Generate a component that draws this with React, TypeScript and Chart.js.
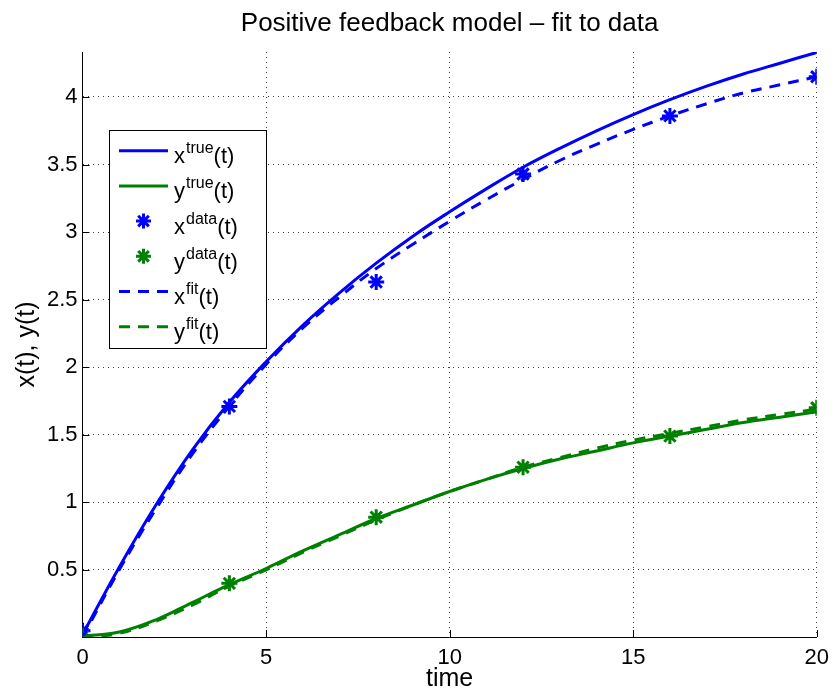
import React, { useEffect, useRef } from "react";
import { Chart, registerables } from "chart.js";

Chart.register(...registerables);

const TITLE = "Positive feedback model \u2013 fit to data";
const X_LABEL = "time";
const Y_LABEL = "x(t), y(t)";

// model curves (true solution and fitted solution), sampled at integer times
const tModel = [0, 1, 2, 3, 4, 5, 6, 7, 8, 9, 10, 11, 12, 13, 14, 15, 16, 17, 18, 19, 20];
const xTrue = [0.02, 0.52, 0.98, 1.39, 1.74, 2.04, 2.31, 2.55, 2.77, 2.97, 3.15, 3.32, 3.48, 3.62, 3.75, 3.87, 3.98, 4.08, 4.17, 4.25, 4.33];
const yTrue = [0.01, 0.04, 0.13, 0.26, 0.39, 0.51, 0.64, 0.76, 0.88, 0.98, 1.08, 1.17, 1.25, 1.32, 1.38, 1.44, 1.49, 1.54, 1.59, 1.63, 1.67];
const xFit = [0.0, 0.5, 0.95, 1.36, 1.71, 2.02, 2.29, 2.52, 2.73, 2.91, 3.08, 3.24, 3.39, 3.53, 3.65, 3.76, 3.86, 3.95, 4.03, 4.09, 4.15];
const yFit = [0.0, 0.03, 0.12, 0.24, 0.38, 0.5, 0.63, 0.75, 0.87, 0.98, 1.08, 1.17, 1.26, 1.33, 1.4, 1.46, 1.51, 1.56, 1.61, 1.65, 1.69];

// measured data
const tData = [0, 4, 8, 12, 16, 20];
const xData = [0.05, 1.71, 2.63, 3.43, 3.86, 4.15];
const yData = [0.01, 0.4, 0.89, 1.26, 1.49, 1.7];

const xTicks = [0, 5, 10, 15, 20];
const yTicks = [0.5, 1, 1.5, 2, 2.5, 3, 3.5, 4];

const legendBase = ["x", "y", "x", "y", "x", "y"];
const legendSup = ["true", "true", "data", "data", "fit", "fit"];
const legendKind = ["line", "line", "star", "star", "dash", "dash"];

const BLUE = "#0000ff";
const GREEN = "#008000";
const legendColor = [BLUE, GREEN, BLUE, GREEN, BLUE, GREEN];

const FONT = "'Liberation Sans', Arial, Helvetica, sans-serif";

const pts = (xs: number[], ys: number[]) => xs.map((x, i) => ({ x, y: ys[i] }));

const drawStar = (ctx: CanvasRenderingContext2D, x: number, y: number, r: number) => {
  ctx.beginPath();
  ctx.moveTo(x - r, y);
  ctx.lineTo(x + r, y);
  ctx.moveTo(x, y - r);
  ctx.lineTo(x, y + r);
  const d = r * Math.SQRT1_2;
  ctx.moveTo(x - d, y - d);
  ctx.lineTo(x + d, y + d);
  ctx.moveTo(x - d, y + d);
  ctx.lineTo(x + d, y - d);
  ctx.stroke();
};

const tickMarks = {
  id: "tickMarks",
  beforeDatasetsDraw(chart: any) {
    const { ctx, chartArea, scales } = chart;
    ctx.save();
    ctx.strokeStyle = "#000";
    ctx.lineWidth = 1;
    ctx.beginPath();
    xTicks.forEach((v) => {
      const px = Math.round(scales.x.getPixelForValue(v)) + 0.5;
      ctx.moveTo(px, chartArea.bottom);
      ctx.lineTo(px, chartArea.bottom - 7);
    });
    yTicks.forEach((v) => {
      const py = Math.round(scales.y.getPixelForValue(v)) + 0.5;
      ctx.moveTo(chartArea.left, py);
      ctx.lineTo(chartArea.left + 7, py);
    });
    ctx.stroke();
    ctx.restore();
  },
};

const matlabLegend = {
  id: "matlabLegend",
  afterDraw(chart: any) {
    const { ctx } = chart;
    const bx = 109.5, by = 130.5, bw = 157, bh = 218;
    ctx.save();
    ctx.fillStyle = "#fff";
    ctx.fillRect(bx, by, bw, bh);
    ctx.strokeStyle = "#000";
    ctx.lineWidth = 1;
    ctx.strokeRect(bx, by, bw, bh);
    for (let i = 0; i < legendBase.length; i++) {
      const cy = 150.7 + 35.2 * i;
      ctx.strokeStyle = legendColor[i];
      ctx.lineWidth = 3;
      if (legendKind[i] === "line") {
        ctx.setLineDash([]);
        ctx.beginPath();
        ctx.moveTo(119, cy);
        ctx.lineTo(168, cy);
        ctx.stroke();
      } else if (legendKind[i] === "dash") {
        ctx.setLineDash([11, 8]);
        ctx.beginPath();
        ctx.moveTo(119, cy);
        ctx.lineTo(168, cy);
        ctx.stroke();
        ctx.setLineDash([]);
      } else {
        ctx.lineWidth = 3;
        drawStar(ctx, 143.5, cy, 7.5);
      }
      ctx.fillStyle = "#000";
      ctx.textBaseline = "alphabetic";
      ctx.textAlign = "left";
      const base = cy + 12.5;
      let tx = 174;
      ctx.font = `22px ${FONT}`;
      ctx.fillText(legendBase[i], tx, base);
      tx += ctx.measureText(legendBase[i]).width + 1;
      ctx.font = `16px ${FONT}`;
      ctx.fillText(legendSup[i], tx, base - 10);
      tx += ctx.measureText(legendSup[i]).width;
      ctx.font = `22px ${FONT}`;
      ctx.fillText("(t)", tx, base);
    }
    ctx.restore();
  },
};

export default function App() {
  const ref = useRef<HTMLCanvasElement>(null);
  useEffect(() => {
    const gridColor = "rgba(0,0,0,0.75)";
    const curve = { borderWidth: 3, pointRadius: 0, tension: 0.4 };
    const star = { showLine: false, pointStyle: "star", pointRadius: 8, pointBorderWidth: 3 };
    const chart = new Chart(ref.current!, {
      type: "line",
      data: {
        datasets: [
          { label: "x true", data: pts(tModel, xTrue), borderColor: BLUE, ...curve, order: 6 },
          { label: "y true", data: pts(tModel, yTrue), borderColor: GREEN, ...curve, order: 5 },
          { label: "x data", data: pts(tData, xData), ...star, borderColor: BLUE, backgroundColor: BLUE, order: 4 },
          { label: "y data", data: pts(tData, yData), ...star, borderColor: GREEN, backgroundColor: GREEN, order: 3 },
          { label: "x fit", data: pts(tModel, xFit), borderColor: BLUE, ...curve, borderDash: [11, 8], order: 2 },
          { label: "y fit", data: pts(tModel, yFit), borderColor: GREEN, ...curve, borderDash: [11, 8], order: 1 },
        ],
      },
      options: {
        animation: false,
        responsive: true,
        maintainAspectRatio: false,
        layout: { padding: { left: 0, right: 15, top: 0, bottom: 0 } },
        plugins: {
          legend: { display: false },
          tooltip: { enabled: false },
          title: {
            display: true,
            text: TITLE,
            fullSize: false,
            color: "#000",
            font: { family: FONT, size: 26, weight: "normal" },
            padding: { top: 8.6, bottom: 12.2 },
          },
        },
        scales: {
          x: {
            type: "linear",
            min: 0,
            max: 20,
            afterBuildTicks: (s: any) => {
              s.ticks = xTicks.map((v) => ({ value: v }));
            },
            afterFit: (s: any) => {
              s.height = 53;
            },
            ticks: { color: "#000", font: { family: FONT, size: 22 }, padding: 8, maxRotation: 0, callback: (v: any) => String(v) },
            grid: { color: gridColor, lineWidth: 1, drawTicks: false },
            border: { display: true, color: "#000", width: 1, dash: [1, 4] },
            title: { display: true, text: X_LABEL, color: "#000", font: { family: FONT, size: 25, lineHeight: 1 }, padding: { top: 0, bottom: -1.5 } },
          },
          y: {
            type: "linear",
            min: 0.003,
            max: 4.333,
            afterBuildTicks: (s: any) => {
              s.ticks = yTicks.map((v) => ({ value: v }));
            },
            afterFit: (s: any) => {
              s.width = 82.5;
            },
            ticks: { color: "#000", font: { family: FONT, size: 22 }, padding: 5, callback: (v: any) => String(v) },
            grid: { color: gridColor, lineWidth: 1, drawTicks: false },
            border: { display: true, color: "#000", width: 1, dash: [1, 4] },
            title: { display: true, text: Y_LABEL, color: "#000", font: { family: FONT, size: 25, lineHeight: 1 }, padding: { top: 14.5, bottom: 0 } },
          },
        },
      },
      plugins: [tickMarks, matlabLegend],
    } as any);
    return () => chart.destroy();
  }, []);
  return (
    <div style={{ position: "fixed", left: 0, top: 0, width: 837, height: 690, background: "#fff" }}>
      <canvas ref={ref} />
    </div>
  );
}
